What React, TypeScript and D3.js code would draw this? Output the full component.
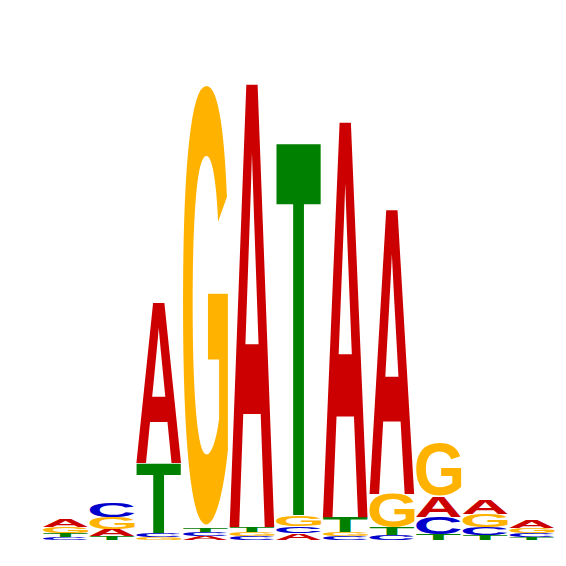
import React, { useMemo } from "react";
import * as d3 from "d3";

const positions = [1, 2, 3, 4, 5, 6, 7, 8, 9, 10, 11];
const letters = ["A", "C", "G", "T"];
const bitsA = [0.034, 0.03, 0.694, 0.016, 1.924, 0.029, 1.716, 1.234, 0.089, 0.06, 0.034];
const bitsC = [0.013, 0.064, 0.015, 0.017, 0.017, 0.03, 0.016, 0.021, 0.072, 0.034, 0.017];
const bitsG = [0.026, 0.051, 0.013, 1.894, 0.018, 0.047, 0.017, 0.145, 0.226, 0.055, 0.021];
const bitsT = [0.015, 0.015, 0.298, 0.018, 0.02, 1.613, 0.064, 0.03, 0.026, 0.021, 0.012];
const letterColors: Record<string, string> = {
  A: "#CC0000",
  C: "#0000CC",
  G: "#FFB300",
  T: "#008000",
};

const W = 566;
const H = 566;
const FONT = "bold 1000px 'Liberation Sans', Arial, Helvetica, sans-serif";

export default function App() {
  const metrics = useMemo(() => {
    const canvas = document.createElement("canvas");
    canvas.width = 2000;
    canvas.height = 2000;
    const ctx = canvas.getContext("2d")!;
    ctx.font = FONT;
    const m: Record<string, { l: number; r: number; a: number; d: number }> = {};
    letters.forEach((L) => {
      const t = ctx.measureText(L);
      m[L] = {
        l: t.actualBoundingBoxLeft,
        r: t.actualBoundingBoxRight,
        a: t.actualBoundingBoxAscent,
        d: t.actualBoundingBoxDescent,
      };
    });
    return m;
  }, []);

  const x = d3
    .scaleBand<number>()
    .domain(positions)
    .range([42, 555])
    .paddingInner(0.02)
    .paddingOuter(0.01);
  const y = d3.scaleLinear().domain([0, 2]).range([540, 70]);

  const series: Record<string, number[]> = { A: bitsA, C: bitsC, G: bitsG, T: bitsT };

  const glyphs: React.ReactNode[] = [];
  positions.forEach((p, i) => {
    const col = letters
      .map((L) => ({ L, v: series[L][i] }))
      .sort((a, b) => a.v - b.v);
    let cum = 0;
    col.forEach(({ L, v }) => {
      const yTop = y(cum + v);
      const yBot = y(cum);
      cum += v;
      const h = yBot - yTop;
      if (h <= 0) return;
      const mm = metrics[L];
      const inkW = mm.l + mm.r;
      const inkH = mm.a + mm.d;
      const x0 = x(p)!;
      const w = x.bandwidth();
      glyphs.push(
        <text
          key={`${p}-${L}`}
          transform={`translate(${x0},${yTop}) scale(${w / inkW},${h / inkH}) translate(${mm.l},${mm.a})`}
          style={{ font: FONT }}
          fill={letterColors[L]}
        >
          {L}
        </text>
      );
    });
  });

  return (
    <svg
      width={W}
      height={H}
      style={{ position: "absolute", left: 0, top: 0, background: "#fff" }}
    >
      <rect width={W} height={H} fill="#fff" />
      {glyphs}
    </svg>
  );
}
